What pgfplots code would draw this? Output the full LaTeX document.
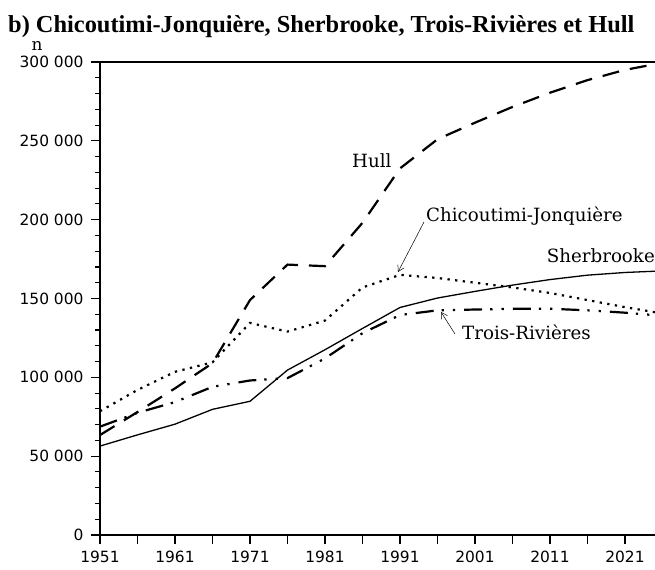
\documentclass[border=0pt]{standalone}
\usepackage{fontspec}
\usepackage{pgfplots}
\pgfplotsset{compat=1.18}
\usepackage{pgfplotstable}
\usetikzlibrary{arrows.meta}
\setmainfont{DejaVu Serif}
\newfontfamily\tickfont{DejaVu Sans}
\newfontfamily\titlefont{Liberation Serif}

\pgfplotstableread{
year hull chic sher trois
1951 63400 78500 56400 68700
1956 78000 92000 63500 77500
1961 93000 103500 70300 84300
1966 109000 109500 79700 94000
1971 149000 134500 84800 98000
1976 171500 129000 104600 99500
1981 170500 136000 117500 112000
1986 198000 157000 131000 128000
1991 232500 165000 144300 139500
1996 251000 163000 150300 142500
2001 261500 160000 154500 143000
2006 271500 157000 158500 143500
2011 280500 153500 162000 143500
2016 288500 149000 164800 142500
2021 295000 144500 166500 141000
2026 299500 140500 167500 139000
}\data

\begin{document}
\begin{tikzpicture}[x=1bp,y=1bp]
\begin{axis}[
  scale only axis,
  width=555bp, height=473bp,
  xmin=1951, xmax=2025,
  ymin=0, ymax=300000,
  axis x line*=bottom,
  axis y line*=left,
  axis line style={line width=1.1bp, -},
  xtick={1951,1956,...,2021},
  xticklabels={1951,,1961,,1971,,1981,,1991,,2001,,2011,,2021},
  ytick={0,50000,...,300000},
  minor y tick num=4,
  tick align=outside,
  major tick length=9bp,
  minor tick length=5bp,
  tick style={line width=1.1bp, black},
  scaled y ticks=false,
  /pgf/number format/assume math mode=true,
  yticklabel style={font=\tickfont\fontsize{15.5}{17}\selectfont, /pgf/number format/fixed, /pgf/number format/1000 sep={\ }, xshift=-4bp},
  xticklabel style={font=\tickfont\fontsize{15.5}{17}\selectfont, /pgf/number format/1000 sep={}, yshift=-4bp},
  clip=true,
]
\addplot[black, line width=1.3bp] table[x=year,y=sher] {\data};
\addplot[black, line width=2.2bp, dash pattern=on 2.3bp off 5.4bp] table[x=year,y=chic] {\data};
\addplot[black, line width=2.2bp, dash pattern=on 17bp off 11bp] table[x=year,y=hull] {\data};
\addplot[black, line width=2.2bp, dash pattern=on 18bp off 8bp on 2.3bp off 9bp on 2.3bp off 9bp] table[x=year,y=trois] {\data};
\draw[line width=1.1bp] (rel axis cs:0,1) -- (rel axis cs:1,1);
\end{axis}
\node[anchor=base west, inner sep=0pt, font=\titlefont\bfseries\fontsize{24.5}{26}\selectfont] at (-92,502) {b) Chicoutimi-Jonquière, Sherbrooke, Trois-Rivières et Hull};
\node[anchor=base, inner sep=0pt, font=\fontsize{17}{19}\selectfont] at (-63,484) {n};
\node[anchor=base west, inner sep=0pt, font=\fontsize{18.3}{20}\selectfont] at (252,367) {Hull};
\node[anchor=base west, inner sep=0pt, font=\fontsize{18.3}{20}\selectfont] at (326,313) {Chicoutimi-Jonquière};
\node[anchor=base east, inner sep=0pt, font=\fontsize{18.3}{20}\selectfont] at (555,272) {Sherbrooke};
\node[anchor=base west, inner sep=0pt, font=\fontsize{18.3}{20}\selectfont] at (362,195) {Trois-Rivières};
\draw[line width=0.5bp, -{Straight Barb[length=6bp,width=7bp]}] (324,313) -- (298,263);
\draw[line width=0.5bp, -{Straight Barb[length=6bp,width=7bp]}] (355,201) -- (341,223);
\pgfresetboundingbox
\path (-100,-35) rectangle (555,535);
\end{tikzpicture}
\end{document}
